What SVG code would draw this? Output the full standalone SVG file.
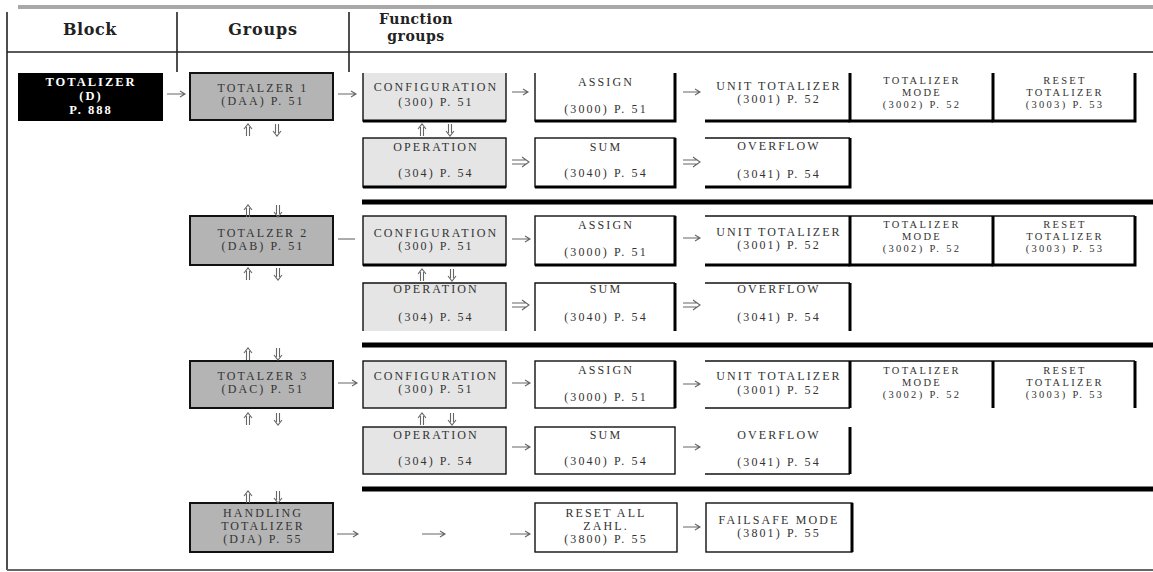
<svg xmlns="http://www.w3.org/2000/svg" width="1153" height="572" viewBox="0 0 1153 572">
<style>
.hdr{font-family:"DejaVu Serif","Liberation Serif",serif;font-weight:bold;fill:#222;text-anchor:middle}
.t{font-family:"Liberation Serif","Times New Roman",serif;font-size:12px;letter-spacing:2.1px;fill:#333;text-anchor:middle}
.t3{font-family:"Liberation Serif","Times New Roman",serif;font-size:10.5px;letter-spacing:2.3px;fill:#333;text-anchor:middle}
.tw{font-family:"Liberation Serif","Times New Roman",serif;font-size:12.5px;font-weight:bold;letter-spacing:2px;fill:#fff;text-anchor:middle}
.grp{fill:#b4b4b4;stroke:#111;stroke-width:2}
.lt{fill:#e5e5e5}
.wh{fill:#fff}
.b{fill:none;stroke:#111;stroke-width:1.4}
.sh{fill:none;stroke:#000;stroke-width:3}
.rule{stroke:#000;stroke-width:5}
.frame{stroke:#222;stroke-width:1.6;fill:none}
.ar{fill:none;stroke:#666;stroke-width:1.1}
</style>

<!-- frame -->
<g id="frame">
  <line x1="18" y1="7" x2="1153" y2="7" stroke="#a8a8a8" stroke-width="4"/>
  <line class="frame" x1="7" y1="12" x2="7" y2="570"/>
  <line class="frame" x1="7" y1="52" x2="1153" y2="52"/>
  <line class="frame" x1="177" y1="12" x2="177" y2="72"/>
  <line class="frame" x1="349" y1="12" x2="349" y2="72"/>
  <line x1="7" y1="570" x2="1153" y2="570" stroke="#666" stroke-width="2"/>
  <text class="hdr" x="90" y="35" font-size="16" letter-spacing="0.6">Block</text>
  <text class="hdr" x="263" y="35" font-size="16" letter-spacing="0.8">Groups</text>
  <text class="hdr" x="416" y="24" font-size="14" letter-spacing="0.5">Function</text>
  <text class="hdr" x="416" y="41" font-size="14" letter-spacing="0.5">groups</text>
  <line class="rule" x1="362" y1="202" x2="1153" y2="202"/>
  <line class="rule" x1="362" y1="345" x2="1153" y2="345"/>
  <line class="rule" x1="362" y1="489" x2="1153" y2="489"/>
</g>

<!-- Block -->
<g id="n-totalizer">
  <rect x="18" y="73" width="145" height="48" fill="#000"/>
  <text class="tw" x="91" y="86">TOTALIZER</text>
  <text class="tw" x="91" y="100">(D)</text>
  <text class="tw" x="91" y="114">P. 888</text>
</g>

<!-- Groups -->
<g id="n-totalzer1">
  <rect class="grp" x="190" y="73" width="143" height="47"/>
  <text class="t" x="263" y="92">TOTALZER 1</text>
  <text class="t" x="263" y="105">(DAA) P. 51</text>
</g>
<g id="n-totalzer2">
  <rect class="grp" x="190" y="216" width="143" height="49"/>
  <text class="t" x="263" y="237">TOTALZER 2</text>
  <text class="t" x="263" y="250">(DAB) P. 51</text>
</g>
<g id="n-totalzer3">
  <rect class="grp" x="190" y="361" width="143" height="47"/>
  <text class="t" x="263" y="380">TOTALZER 3</text>
  <text class="t" x="263" y="393">(DAC) P. 51</text>
</g>
<g id="n-handling">
  <rect class="grp" x="190" y="503" width="143" height="49"/>
  <text class="t" x="263" y="517">HANDLING</text>
  <text class="t" x="263" y="530">TOTALIZER</text>
  <text class="t" x="263" y="543">(DJA) P. 55</text>
</g>

<!-- Row 1 -->
<g id="n-config1">
  <rect class="lt" x="363" y="73" width="143" height="48"/>
  <path class="b" d="M363 73V121H506V73"/>
  <path class="sh" d="M363 121H506"/>
  <text class="t" x="436" y="91">CONFIGURATION</text>
  <text class="t" x="436" y="106">(300) P. 51</text>
</g>
<g id="n-assign1">
  <rect class="wh" x="535" y="73" width="140" height="48"/>
  <path class="b" d="M535 73V121H675"/>
  <path class="sh" d="M535 121H675V73"/>
  <text class="t" x="606" y="86">ASSIGN</text>
  <text class="t" x="606" y="113">(3000) P. 51</text>
</g>
<g id="n-unit1">
  <path class="sh" d="M705 121H850"/>
  <text class="t" x="779" y="90">UNIT TOTALIZER</text>
  <text class="t" x="779" y="103">(3001) P. 52</text>
</g>
<g id="n-mode1">
  <path class="sh" d="M850 73V121H993"/>
  <text class="t3" x="922" y="84">TOTALIZER</text>
  <text class="t3" x="922" y="96">MODE</text>
  <text class="t3" x="922" y="108">(3002) P. 52</text>
</g>
<g id="n-reset1">
  <path class="sh" d="M993 73V121H1135V73"/>
  <text class="t3" x="1065" y="84">RESET</text>
  <text class="t3" x="1065" y="96">TOTALIZER</text>
  <text class="t3" x="1065" y="108">(3003) P. 53</text>
</g>
<g id="n-operation1">
  <rect class="lt" x="363" y="138" width="143" height="49"/>
  <rect class="b" x="363" y="138" width="143" height="49"/>
  <path class="sh" d="M363 187H506"/>
  <text class="t" x="436" y="151">OPERATION</text>
  <text class="t" x="436" y="177">(304) P. 54</text>
</g>
<g id="n-sum1">
  <rect class="b" x="535" y="138" width="140" height="49"/>
  <path class="sh" d="M535 187H675V138"/>
  <text class="t" x="606" y="151">SUM</text>
  <text class="t" x="606" y="177">(3040) P. 54</text>
</g>
<g id="n-overflow1">
  <path class="b" d="M705 138H850"/>
  <path class="sh" d="M705 187H850V138"/>
  <text class="t" x="779" y="150">OVERFLOW</text>
  <text class="t" x="779" y="178">(3041) P. 54</text>
</g>

<!-- Row 2 -->
<g id="n-config2">
  <rect class="lt" x="363" y="216" width="143" height="49"/>
  <rect class="b" x="363" y="216" width="143" height="49"/>
  <path class="sh" d="M363 265H506"/>
  <text class="t" x="436" y="237">CONFIGURATION</text>
  <text class="t" x="436" y="250">(300) P. 51</text>
</g>
<g id="n-assign2">
  <rect class="b" x="535" y="216" width="140" height="49"/>
  <path class="sh" d="M535 265H675V216"/>
  <text class="t" x="606" y="229">ASSIGN</text>
  <text class="t" x="606" y="256">(3000) P. 51</text>
</g>
<g id="n-unit2">
  <path class="b" d="M705 216H850"/>
  <path class="sh" d="M705 265H850"/>
  <text class="t" x="779" y="236">UNIT TOTALIZER</text>
  <text class="t" x="779" y="249">(3001) P. 52</text>
</g>
<g id="n-mode2">
  <path class="b" d="M850 216H993"/>
  <path class="sh" d="M850 216V265H993"/>
  <text class="t3" x="922" y="228">TOTALIZER</text>
  <text class="t3" x="922" y="240">MODE</text>
  <text class="t3" x="922" y="252">(3002) P. 52</text>
</g>
<g id="n-reset2">
  <path class="b" d="M993 216H1135"/>
  <path class="sh" d="M993 216V265H1135V216"/>
  <text class="t3" x="1065" y="228">RESET</text>
  <text class="t3" x="1065" y="240">TOTALIZER</text>
  <text class="t3" x="1065" y="252">(3003) P. 53</text>
</g>
<g id="n-operation2">
  <rect class="lt" x="363" y="283" width="143" height="48"/>
  <path class="b" d="M363 331V283H506V331"/>
  <text class="t" x="436" y="293">OPERATION</text>
  <text class="t" x="436" y="321">(304) P. 54</text>
</g>
<g id="n-sum2">
  <path class="b" d="M535 331V283H675"/>
  <path class="sh" d="M675 283V331"/>
  <text class="t" x="606" y="293">SUM</text>
  <text class="t" x="606" y="321">(3040) P. 54</text>
</g>
<g id="n-overflow2">
  <path class="b" d="M705 283H850"/>
  <path class="sh" d="M850 283V331"/>
  <text class="t" x="779" y="293">OVERFLOW</text>
  <text class="t" x="779" y="321">(3041) P. 54</text>
</g>

<!-- Row 3 -->
<g id="n-config3">
  <rect class="lt" x="363" y="361" width="143" height="47"/>
  <rect class="b" x="363" y="361" width="143" height="47"/>
  <text class="t" x="436" y="380">CONFIGURATION</text>
  <text class="t" x="436" y="393">(300) P. 51</text>
</g>
<g id="n-assign3">
  <rect class="b" x="535" y="361" width="140" height="47"/>
  <path class="sh" d="M675 361V408"/>
  <text class="t" x="606" y="374">ASSIGN</text>
  <text class="t" x="606" y="401">(3000) P. 51</text>
</g>
<g id="n-unit3">
  <path class="b" d="M705 361H850M705 408H850"/>
  <text class="t" x="779" y="380">UNIT TOTALIZER</text>
  <text class="t" x="779" y="394">(3001) P. 52</text>
</g>
<g id="n-mode3">
  <path class="b" d="M850 361H993"/>
  <path class="sh" d="M850 361V408"/>
  <text class="t3" x="922" y="374">TOTALIZER</text>
  <text class="t3" x="922" y="386">MODE</text>
  <text class="t3" x="922" y="398">(3002) P. 52</text>
</g>
<g id="n-reset3">
  <path class="b" d="M993 361H1135"/>
  <path class="sh" d="M993 361V408M1135 361V408"/>
  <text class="t3" x="1065" y="374">RESET</text>
  <text class="t3" x="1065" y="386">TOTALIZER</text>
  <text class="t3" x="1065" y="398">(3003) P. 53</text>
</g>
<g id="n-operation3">
  <rect class="lt" x="363" y="427" width="143" height="47"/>
  <rect class="b" x="363" y="427" width="143" height="47"/>
  <text class="t" x="436" y="439">OPERATION</text>
  <text class="t" x="436" y="465">(304) P. 54</text>
</g>
<g id="n-sum3">
  <rect class="b" x="535" y="427" width="140" height="47"/>
  <text class="t" x="606" y="439">SUM</text>
  <text class="t" x="606" y="465">(3040) P. 54</text>
</g>
<g id="n-overflow3">
  <path class="b" d="M705 474H850"/>
  <path class="sh" d="M850 427V474"/>
  <text class="t" x="779" y="439">OVERFLOW</text>
  <text class="t" x="779" y="466">(3041) P. 54</text>
</g>

<!-- Row 4 -->
<g id="n-resetall">
  <rect class="b" x="535" y="503" width="142" height="49" stroke-width="2"/>
  <text class="t" x="606" y="517">RESET ALL</text>
  <text class="t" x="606" y="530">ZAHL.</text>
  <text class="t" x="606" y="543">(3800) P. 55</text>
</g>
<g id="n-failsafe">
  <rect class="b" x="706" y="503" width="146" height="49" stroke-width="2"/>
  <path class="sh" d="M852 503V552"/>
  <text class="t" x="779" y="524">FAILSAFE MODE</text>
  <text class="t" x="779" y="537">(3801) P. 55</text>
</g>

<!-- Connectors -->
<g id="connectors" class="ar">
  <path d="M167 94H185M180 91L185 94L180 97"/>
  <path d="M338 94H356M351 91L356 94L351 97"/>
  <path d="M512 92H528M523 89L528 92L523 95"/>
  <path d="M683 92H700M695 89L700 92L695 95"/>
  <path d="M338 239H355"/>
  <path d="M512 239H530M525 236L530 239L525 242"/>
  <path d="M683 238H700M695 235L700 238L695 241"/>
  <path d="M338 383H357M352 380L357 383L352 386"/>
  <path d="M512 383H530M525 380L530 383L525 386"/>
  <path d="M683 384H700M695 381L700 384L695 387"/>
  <path d="M512 447H530M525 444L530 447L525 450"/>
  <path d="M683 447H700M695 444L700 447L695 450"/>
  <path d="M337 534H358M353 531L358 534L353 537"/>
  <path d="M422 534H445M440 531L445 534L440 537"/>
  <path d="M510 534H530M525 531L530 534L525 537"/>
  <path d="M683 527H700M695 524L700 527L695 530"/>
  <path d="M512 160H526M512 164H526M522 157L529 162L522 167"/>
  <path d="M683 160H697M683 164H697M693 157L700 162L693 167"/>
  <path d="M512 303H526M512 307H526M522 300L529 305L522 310"/>
  <path d="M683 303H697M683 307H697M693 300L700 305L693 310"/>
  <path d="M246.5 136V127M249.5 136V127M244 129L248 124L252 129"/>
  <path d="M275.5 124V133M278.5 124V133M273 131L277 136L281 131"/>
  <path d="M420.5 136V127M423.5 136V127M418 129L422 124L426 129"/>
  <path d="M448.5 124V133M451.5 124V133M446 131L450 136L454 131"/>
  <path d="M246.5 217V208M249.5 217V208M244 210L248 205L252 210"/>
  <path d="M276.5 205V214M279.5 205V214M274 212L278 217L282 212"/>
  <path d="M246.5 280V271M249.5 280V271M244 273L248 268L252 273"/>
  <path d="M276.5 268V277M279.5 268V277M274 275L278 280L282 275"/>
  <path d="M420.5 281V272M423.5 281V272M418 274L422 269L426 274"/>
  <path d="M450.5 269V278M453.5 269V278M448 276L452 281L456 276"/>
  <path d="M246.5 360V351M249.5 360V351M244 353L248 348L252 353"/>
  <path d="M276.5 348V357M279.5 348V357M274 355L278 360L282 355"/>
  <path d="M246.5 425V416M249.5 425V416M244 418L248 413L252 418"/>
  <path d="M276.5 413V422M279.5 413V422M274 420L278 425L282 420"/>
  <path d="M420.5 425V416M423.5 425V416M418 418L422 413L426 418"/>
  <path d="M450.5 413V422M453.5 413V422M448 420L452 425L456 420"/>
  <path d="M246.5 503V494M249.5 503V494M244 496L248 491L252 496"/>
  <path d="M276.5 491V500M279.5 491V500M274 498L278 503L282 498"/>
</g>
</svg>
